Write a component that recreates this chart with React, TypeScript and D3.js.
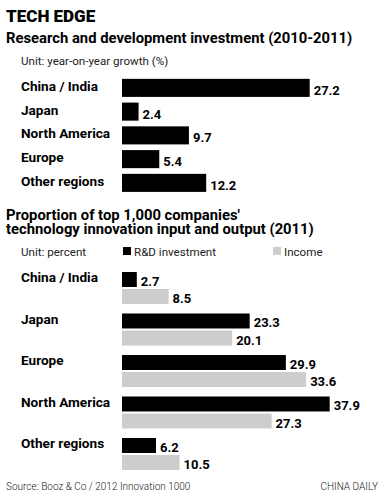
import { useEffect, useRef } from "react";
import * as d3 from "d3";

// R&D investment growth 2010-2011 (year-on-year, %)
const growthRegions = ["China / India", "Japan", "North America", "Europe", "Other regions"];
const growthValues = [27.2, 2.4, 9.7, 5.4, 12.2];

// Top 1,000 companies share, 2011 (percent)
const shareRegions = ["China / India", "Japan", "Europe", "North America", "Other regions"];
const seriesNames = ["R&D investment", "Income"];
const rdShare = [2.7, 23.3, 29.9, 37.9, 6.2];
const incomeShare = [8.5, 20.1, 33.6, 27.3, 10.5];

const W = 385;
const H = 495;
const FONT = "Roboto, 'Liberation Sans', sans-serif";
const GREY = "#cdcdcd";

export default function App() {
  const ref = useRef<SVGSVGElement | null>(null);

  useEffect(() => {
    if (!ref.current) return;
    const svg = d3.select(ref.current);
    svg.selectAll("*").remove();
    svg.attr("font-family", FONT);

    svg.append("rect").attr("width", W).attr("height", H).attr("fill", "#fff");

    // headings
    svg.append("text").attr("x", 6).attr("y", 22).attr("font-size", 17).attr("font-weight", 900)
      .text("TECH EDGE");
    svg.append("text").attr("x", 6).attr("y", 43).attr("font-size", 14.8).attr("font-weight", 700)
      .text("Research and development investment (2010-2011)");
    svg.append("text").attr("x", 21).attr("y", 65).attr("font-size", 11.6).attr("fill", "#222")
      .text("Unit: year-on-year growth (%)");

    // 1) growth chart
    const x1 = d3.scaleLinear().domain([0, 30]).range([122, 329]);
    const y1 = d3.scaleBand<string>().domain(growthRegions).range([76, 194.75])
      .paddingInner(0.24).paddingOuter(0.12);
    const rows1 = growthRegions.map((r, i) => ({ region: r, value: growthValues[i] }));

    const g1 = svg.append("g");
    g1.selectAll("rect").data(rows1).join("rect")
      .attr("x", x1(0))
      .attr("y", (d) => y1(d.region)!)
      .attr("width", (d) => x1(d.value) - x1(0))
      .attr("height", y1.bandwidth())
      .attr("fill", "#000");
    g1.selectAll("text.cat").data(rows1).join("text").attr("class", "cat")
      .attr("x", 21)
      .attr("y", (d) => y1(d.region)! + 12)
      .attr("font-size", 13.6).attr("font-weight", 700)
      .text((d) => d.region);
    g1.selectAll("text.val").data(rows1).join("text").attr("class", "val")
      .attr("x", (d) => x1(d.value) + 4)
      .attr("y", (d) => y1(d.region)! + y1.bandwidth() - 2)
      .attr("font-size", 13).attr("font-weight", 700)
      .text((d) => d.value.toFixed(1));

    // 2) share chart
    svg.append("text").attr("x", 6).attr("y", 219.5).attr("font-size", 14.8).attr("font-weight", 700)
      .text("Proportion of top 1,000 companies'");
    svg.append("text").attr("x", 6).attr("y", 233.5).attr("font-size", 14.8).attr("font-weight", 700)
      .text("technology innovation input and output (2011)");
    svg.append("text").attr("x", 21).attr("y", 256).attr("font-size", 11.6).attr("fill", "#222")
      .text("Unit: percent");

    const color = d3.scaleOrdinal<string, string>().domain(seriesNames).range(["#000", GREY]);
    const legendX = d3.scaleOrdinal<string, number>().domain(seriesNames).range([123, 273]);
    const lg = svg.append("g");
    seriesNames.forEach((s) => {
      lg.append("rect").attr("x", legendX(s)).attr("y", 247).attr("width", 8).attr("height", 8)
        .attr("fill", color(s));
      lg.append("text").attr("x", legendX(s) + 11).attr("y", 256).attr("font-size", 11.6)
        .attr("fill", "#222").text(s);
    });

    const x2 = d3.scaleLinear().domain([0, 40]).range([122, 341.2]);
    const y2 = d3.scaleBand<string>().domain(shareRegions).range([271, 478.5]);
    const ySub = d3.scaleBand<string>().domain(seriesNames).range([1, 33]).paddingInner(0.12);
    const rows2 = shareRegions.map((r, i) => ({
      region: r,
      bars: [
        { series: seriesNames[0], value: rdShare[i] },
        { series: seriesNames[1], value: incomeShare[i] },
      ],
    }));

    const groups = svg.append("g").selectAll("g").data(rows2).join("g")
      .attr("transform", (d) => `translate(0,${y2(d.region)})`);
    groups.append("text")
      .attr("x", 21).attr("y", 11)
      .attr("font-size", 13.6).attr("font-weight", 700)
      .text((d) => d.region);
    groups.selectAll("rect").data((d) => d.bars).join("rect")
      .attr("x", x2(0))
      .attr("y", (d) => ySub(d.series)!)
      .attr("width", (d) => x2(d.value) - x2(0))
      .attr("height", ySub.bandwidth())
      .attr("fill", (d) => color(d.series));
    groups.selectAll("text.val").data((d) => d.bars).join("text").attr("class", "val")
      .attr("x", (d) => x2(d.value) + 4)
      .attr("y", (d) => ySub(d.series)! + ySub.bandwidth() - 1)
      .attr("font-size", 13).attr("font-weight", 700)
      .text((d) => d.value.toFixed(1));

    // footer
    svg.append("text").attr("x", 6).attr("y", 490).attr("font-size", 10).attr("fill", "#222")
      .attr("font-weight", 300)
      .text("Source: Booz & Co / 2012 Innovation 1000");
    svg.append("text").attr("x", 378).attr("y", 490).attr("font-size", 10).attr("fill", "#222")
      .attr("font-weight", 300).attr("text-anchor", "end")
      .text("CHINA DAILY");
  }, []);

  return (
    <svg
      ref={ref}
      width={W}
      height={H}
      style={{ position: "absolute", left: 0, top: 0, display: "block" }}
    />
  );
}
